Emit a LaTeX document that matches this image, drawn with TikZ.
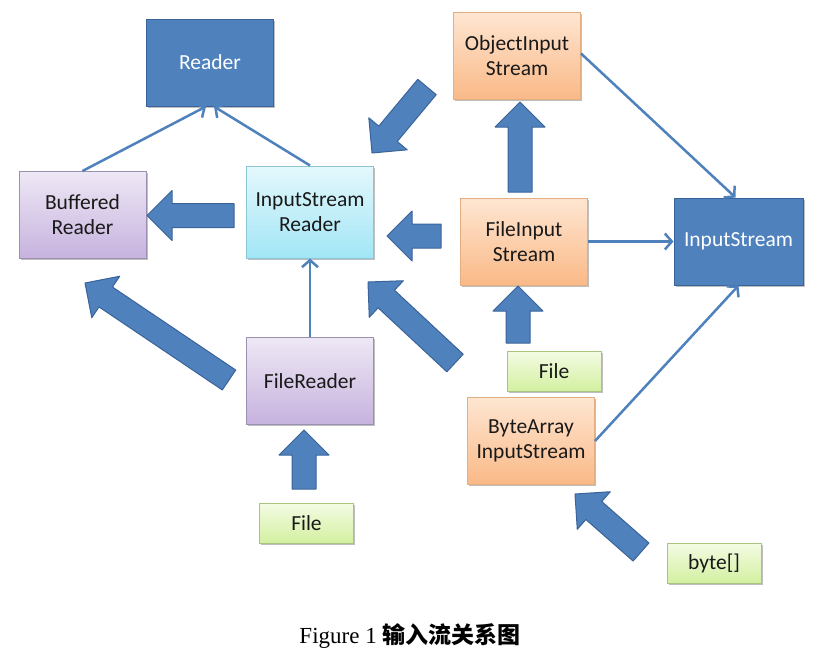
\documentclass[tikz,border=0pt]{standalone}
\usepackage{fontspec}
\setmainfont{Carlito}
\newfontfamily\capfont{Liberation Serif}
\newfontfamily\cjk{Noto Sans CJK SC}
\usetikzlibrary{arrows.meta, positioning, calc, shadows}

\definecolor{ofblue}{HTML}{4F81BD}
\definecolor{ofblueline}{HTML}{3A639A}
\definecolor{purpletop}{HTML}{EEE8F5}
\definecolor{purplebot}{HTML}{C6B2DE}
\definecolor{purpleline}{HTML}{9C90B0}
\definecolor{cyantop}{HTML}{E4F8FC}
\definecolor{cyanbot}{HTML}{A2E6F6}
\definecolor{cyanline}{HTML}{8CC6D6}
\definecolor{orangetop}{HTML}{FEE6D2}
\definecolor{orangebot}{HTML}{FAB987}
\definecolor{orangeline}{HTML}{E2AE82}
\definecolor{greentop}{HTML}{F3FBE2}
\definecolor{greenbot}{HTML}{D3F0A0}
\definecolor{greenline}{HTML}{A8C47E}

\tikzset{
  box/.style={draw, line width=1pt, minimum width=127pt, minimum height=87pt,
    align=center, font=\fontsize{21.5}{25}\selectfont, text=black!90,
    drop shadow={shadow xshift=1.5pt, shadow yshift=-1.5pt, opacity=.25, fill=black}},
  bluebox/.style={box, fill=ofblue, draw=ofblueline, text=white},
  purplebox/.style={box, top color=purpletop, bottom color=purplebot, draw=purpleline},
  cyanbox/.style={box, top color=cyantop, bottom color=cyanbot, draw=cyanline},
  orangebox/.style={box, top color=orangetop, bottom color=orangebot, draw=orangeline},
  greenbox/.style={box, minimum width=94pt, minimum height=40pt,
    top color=greentop, bottom color=greenbot, draw=greenline},
  link/.style={draw=ofblue, line width=2.5pt, -{Straight Barb[length=7pt,width=16pt]}},
  fatarrow/.style={fill=ofblue, draw=ofblueline, line width=1pt, line join=round},
}

% block arrow from #1 (tail) to #2 (tip)
\newcommand\fatarrow[2]{%
  \coordinate (neck) at ($(#2)!25pt!(#1)$);
  \draw[fatarrow] ($(#1)!12pt!90:(#2)$) -- ($(neck)!12pt!90:(#2)$)
    -- ($(neck)!25pt!90:(#2)$) -- (#2)
    -- ($(neck)!25pt!-90:(#2)$) -- ($(neck)!12pt!-90:(#2)$)
    -- ($(#1)!12pt!-90:(#2)$) -- cycle;}

\begin{document}
\begin{tikzpicture}[x=1pt, y=-1pt]
  \useasboundingbox[fill=white] (0,0) rectangle (821,656);

  % Reader side
  \node[bluebox] (reader) at (210,62.5) {Reader};
  \node[purplebox] (bufr) at (82.5,215) {Buffered\\Reader};
  \node[cyanbox, minimum height=92pt] (isr) at (310,212) {InputStream\\Reader};
  \node[purplebox] (fr) at (310,381) {FileReader};
  \node[greenbox] (fileA) at (306.5,523.5) {File};

  % InputStream side
  \node[orangebox] (ois) at (517,55.5) {ObjectInput\\Stream};
  \node[orangebox] (fis) at (524,241.5) {FileInput\\Stream};
  \node[bluebox, minimum width=129pt] (is) at (738.5,241.5) {InputStream};
  \node[greenbox] (fileB) at (554,371.5) {File};
  \node[orangebox] (bais) at (531,441) {ByteArray\\InputStream};
  \node[greenbox] (bytes) at (714,563.5) {byte[]};

  % thin arrows (inheritance)
  \draw[link] (bufr.north) -- ([xshift=-4pt]reader.south);
  \draw[link] (isr.north) -- ([xshift=4pt]reader.south);
  \draw[link] (fr.north) -- (isr.south);
  \draw[link] ([yshift=2pt]ois.east) -- ([xshift=-3pt]is.north);
  \draw[link] (fis.east) -- (is.west);
  \draw[link] (bais.east) -- (is.south);

  % block arrows (wrapping)
  \coordinate (isrTail) at (234,215.5);  \coordinate (isrTip) at (147,215.5);
  \coordinate (fisTail) at (441,236);    \coordinate (fisTip) at (387,236);
  \coordinate (oisTail) at (520,192);    \coordinate (oisTip) at (520,102);
  \coordinate (fileBTail) at (518,343);  \coordinate (fileBTip) at (518,286);
  \coordinate (fileATail) at (304,489);  \coordinate (fileATip) at (304,430);
  \coordinate (objTail) at (427,87);     \coordinate (objTip) at (372,153);
  \coordinate (frTail) at (229,380);     \coordinate (frTip) at (85,283);
  \coordinate (baisTail) at (455,363);   \coordinate (baisTip) at (368,282);
  \coordinate (bytesTail) at (641,552);  \coordinate (bytesTip) at (575,494);
  \fatarrow{isrTail}{isrTip}
  \fatarrow{fisTail}{fisTip}
  \fatarrow{oisTail}{oisTip}
  \fatarrow{fileBTail}{fileBTip}
  \fatarrow{fileATail}{fileATip}
  \fatarrow{objTail}{objTip}
  \fatarrow{frTail}{frTip}
  \fatarrow{baisTail}{baisTip}
  \fatarrow{bytesTail}{bytesTip}

  % caption
  \node[font=\fontsize{23}{27}\selectfont] (caption) at (410,636)
    {\capfont Figure 1 {\cjk\bfseries 输入流关系图}};
\end{tikzpicture}
\end{document}
